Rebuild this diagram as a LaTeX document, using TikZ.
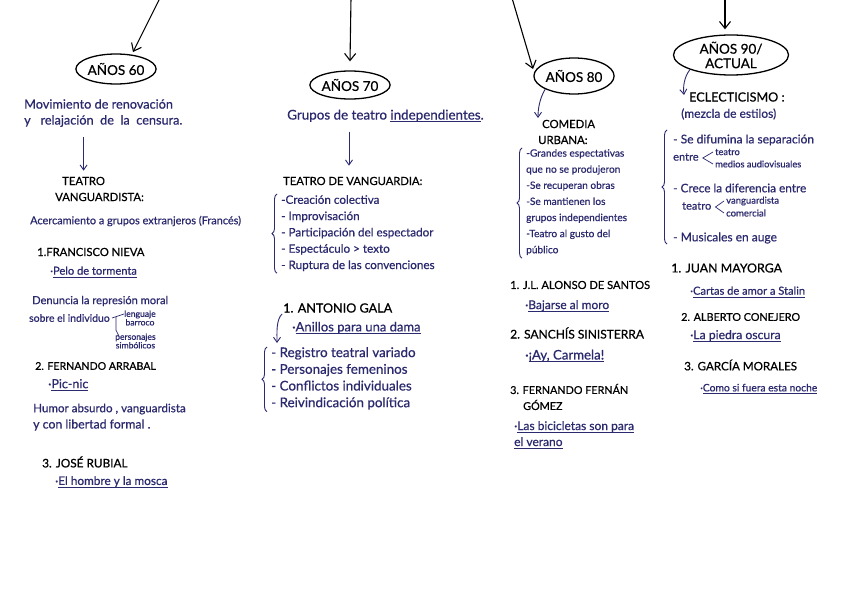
\documentclass[tikz,border=0pt]{standalone}
\usepackage{fontspec}
\setmainfont{Lato}[FakeBold=0.6]
\newsavebox{\ulbox}
\newcommand{\myul}[1]{\sbox{\ulbox}{#1}\rlap{\rule[-2.8pt]{\wd\ulbox}{0.9pt}}\usebox{\ulbox}}
\usetikzlibrary{arrows.meta,decorations.pathreplacing,shapes.geometric,calc}
\definecolor{ink}{HTML}{2C2A6E}
\begin{document}
\begin{tikzpicture}[x=1pt,y=-1pt,
 f/.style={font=\fontsize{#1}{#1}\selectfont},
 hd/.style={anchor=west, inner sep=0pt, text=black, f=11},
 tx/.style={anchor=west, inner sep=0pt, text=ink, f=11},
 era/.style={ellipse, draw=black, line width=1.3pt, inner sep=0pt, font=\fontsize{13.5}{14.5}\selectfont, align=center},
 blk/.style={-{Straight Barb[length=7pt,width=11pt]}, line width=1.1pt, black},
 nav/.style={-{Straight Barb[length=5pt,width=7pt]}, line width=0.9pt, ink},
 br/.style={decorate, decoration={brace, amplitude=5pt}, ink, line width=0.9pt},
 thin/.style={ink, line width=0.7pt}]
\useasboundingbox[fill=white] (0,0) rectangle (848,599);

% ---------- column 1 ----------
\coordinate (t60) at (160,-2);
\coordinate (h60) at (133,52);
\node[era, minimum width=78pt, minimum height=30pt] (e60) at (116,69) {AÑOS 60};
\draw[blk] (t60) -- (h60);
\node[tx, f=12.7] (m60a) at (24,104) {Movimiento de renovación};
\node[tx, f=12.7] (m60b) at (24,121) {y \ \ relajación \ de \ la \ censura.};
\node[hd, f=11.3] (tv60a) at (62,181) {TEATRO};
\node[hd, f=11.3] (tv60b) at (55,197) {VANGUARDISTA:};
\draw[nav] ($(m60b.south -| tv60a.north)+(0,10)$) -- ($(tv60a.north)+(0,-6)$);
\node[tx, f=10.9] (acer) at (30,221) {Acercamiento a grupos extranjeros (Francés)};
\node[hd, f=11.2] (fn) at (37,252) {1.FRANCISCO NIEVA};
\node[tx, f=11.1] (pt) at (50,272) {·\myul{Pelo de tormenta}};
\node[tx, f=11.1] (den1) at (32,301) {Denuncia la represión moral};
\node[tx, f=10.4] (den2) at (29,318) {sobre el individuo};
\node[tx, f=8.6, align=center] (leng) at (124,318) {lenguaje\\barroco};
\node[tx, f=8.6, align=center] (pers) at (115,341) {personajes\\simbólicos};
\draw[thin] ($(den2.east)+(2,0)$) -- ($(leng.west)+(0,-4)$);
\draw[thin] ($(den2.east)+(6,-1)$) -- ($(den2.east)+(6,12)$) -- ($(pers.north west)+(4,3)$);
\node[hd, f=10.6] (fa) at (35,366) {2. FERNANDO ARRABAL};
\node[tx, f=12.5] (pn) at (48,385) {·\myul{Pic-nic}};
\node[tx, f=11.6] (hu1) at (33,409) {Humor absurdo , vanguardista};
\node[tx, f=12.3] (hu2) at (33,425) {y con libertad formal .};
\node[hd, f=11.8] (jr) at (42,462) {3. JOSÉ RUBIAL};
\node[tx, f=11.8] (eh) at (55,482) {·\myul{El hombre y la mosca}};

% ---------- column 2 ----------
\coordinate (t70) at (351,-2);
\node[era, minimum width=79pt, minimum height=28pt] (e70) at (350,85) {AÑOS 70};
\draw[blk] (t70) -- ([yshift=9pt]e70.north);
\node[tx, f=13.4] (gr) at (287,116) {Grupos de teatro \myul{independientes}.};
\node[hd, f=11.2] (tdv) at (283,181) {TEATRO DE VANGUARDIA:};
\draw[nav] ($(gr.south -| 349,0)+(0,9)$) -- ($(tdv.north -| 349,0)+(0,-11)$);
\node[tx, align=left, anchor=north west, font=\fontsize{11.7}{16.3}\selectfont] (l70) at (281,195)
 {-Creación colectiva\\- Improvisación\\- Participación del espectador\\- Espectáculo > texto\\- Ruptura de las convenciones};
\draw[br] ($(l70.south west)+(-4,2)$) -- ($(l70.north west)+(-4,-1)$);
\node[hd, f=12.6] (ag) at (283,308) {1. ANTONIO GALA};
\node[tx, f=13] (an) at (292,328) {·\myul{Anillos para una dama}};
\node[tx, align=left, anchor=north west, font=\fontsize{13.4}{16.7}\selectfont] (l70b) at (271,347)
 {- Registro teatral variado\\- Personajes femeninos\\- Conflictos individuales\\- Reivindicación política};
\draw[nav] ($(ag.west)+(-1,6)$) .. controls ($(ag.west)+(-7,12)$) and ($(l70b.north west)+(6,-14)$) .. ($(l70b.north west)+(6,-4)$);
\draw[br] ($(l70b.south west)+(-4,2)$) -- ($(l70b.north west)+(-4,0)$);

% ---------- column 3 ----------
\coordinate (t80) at (512,-2);
\coordinate (h80) at (533,69);
\node[era, minimum width=75pt, minimum height=36pt] (e80) at (574,76) {AÑOS 80};
\draw[blk] (t80) -- (h80);
\node[hd, f=11.3] (cm) at (542,124) {COMEDIA};
\node[hd, f=11.3] (ur) at (538,140) {URBANA:};
\draw[nav] (e80.south west) .. controls ($(e80.south west)+(-6,10)$) and ($(cm.west)+(-4,-14)$) .. ($(cm.west)+(-4,-6)$);
\node[tx, align=left, anchor=north west, font=\fontsize{10.1}{16.1}\selectfont] (l80) at (526,149)
 {-Grandes espectativas\\que no se produjeron\\-Se recuperan obras\\-Se mantienen los\\grupos independientes\\-Teatro al gusto del\\público};
\draw[br] ($(l80.south west)+(-4,3)$) -- ($(l80.north west)+(-4,-1)$);
\node[hd, f=11.1] (js) at (510,285) {1. J.L. ALONSO DE SANTOS};
\node[tx, f=12] (bm) at (525,306) {·\myul{Bajarse al moro}};
\node[hd, f=12] (ss) at (510,333) {2. SANCHÍS SINISTERRA};
\node[tx, f=13.2] (ay) at (525,356) {·\myul{¡Ay, Carmela!}};
\node[hd, f=10.8] (ff) at (510,389) {3. FERNANDO FERNÁN};
\node[hd, f=10.8] (ff2) at (523,405) {GÓMEZ};
\node[tx, f=12] (lb1) at (514,427) {·\myul{Las bicicletas son para}};
\node[tx, f=12] (lb2) at (514,443) {\myul{el verano}};

% ---------- column 4 ----------
\coordinate (t90) at (725,-2);
\node[era, minimum width=115pt, minimum height=40pt] (e90) at (731,55) {AÑOS 90/\\ACTUAL};
\draw[blk] (t90) -- ([yshift=5pt]e90.north -| t90);
\node[hd, f=12.6] (ec) at (689,97) {ECLECTICISMO :};
\node[tx, f=12] (mz) at (681,114) {(mezcla de estilos)};
\draw[nav] (e90.south west) .. controls ($(e90.south west)+(-6,8)$) and ($(ec.west)+(-6,-10)$) .. ($(ec.west)+(-5,-2)$);
\node[tx, f=12] (d1) at (673,140) {- Se difumina la separación};
\node[tx, f=11] (d1b) at (673,157) {entre};
\node[tx, f=9.3] (d1t) at (715,152) {teatro};
\node[tx, f=9.3] (d1m) at (715,164) {medios audiovisuales};
\draw[thin] ($(d1t.west)+(-2,0)$) -- ($(d1b.east)+(4,1)$) -- ($(d1m.west)+(-2,0)$);
\node[tx, f=11.8] (d2) at (673,188) {- Crece la diferencia entre};
\node[tx, f=11] (d2b) at (682,206) {teatro};
\node[tx, f=9.5] (d2v) at (726,201) {vanguardista};
\node[tx, f=9.5] (d2c) at (726,213) {comercial};
\draw[thin] ($(d2v.west)+(-2,0)$) -- ($(d2b.east)+(4,1)$) -- ($(d2c.west)+(-2,0)$);
\node[tx, f=12] (d3) at (673,238) {- Musicales en auge};
\coordinate (b90t) at (667,130);
\coordinate (b90b) at (667,244);
\draw[br] (b90b) -- (b90t);
\node[hd, f=12.4] (jm) at (671,268) {1. JUAN MAYORGA};
\node[tx, f=11.1] (ca) at (690,292) {·\myul{Cartas de amor a Stalin}};
\node[hd, f=10.8] (ac) at (681,317) {2. ALBERTO CONEJERO};
\node[tx, f=12.2] (lp) at (690,336) {·\myul{La piedra oscura}};
\node[hd, f=11.6] (gm) at (684,365) {3. GARCÍA MORALES};
\node[tx, f=10.3] (cs) at (700,389) {·\myul{Como si fuera esta noche}};
\end{tikzpicture}
\end{document}
